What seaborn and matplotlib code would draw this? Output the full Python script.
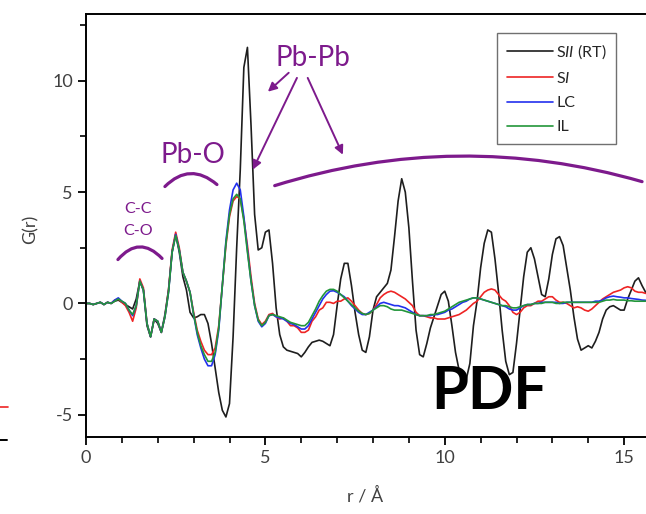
import numpy as np
import pandas as pd
import matplotlib
matplotlib.use("Agg")
import matplotlib.pyplot as plt
from matplotlib.lines import Line2D
import seaborn as sns

# r grid (Angstrom) shared by all curves
r = np.round(np.arange(0, 15.65, 0.1), 2)

g_sii = [0.0, 0.0, -0.05, 0.0, 0.05, -0.05, 0.05, 0.0, 0.1, 0.15,
         0.05, -0.05, -0.15, -0.25, 0.2, 1.0, 0.6, -1.0, -1.5, -0.7,
         -0.9, -1.3, -0.5, 0.6, 2.3, 3.1, 2.3, 1.2, 0.6, -0.4,
         -0.65, -0.6, -0.5, -0.5, -0.9, -1.8, -2.9, -4.0, -4.8, -5.1,
         -4.5, -1.5, 2.5, 6.0, 10.6, 11.5, 8.0, 4.0, 2.4, 2.5,
         3.2, 3.3, 1.8, -0.2, -1.4, -1.95, -2.1, -2.15, -2.2, -2.25,
         -2.4, -2.2, -1.95, -1.75, -1.7, -1.65, -1.7, -1.8, -1.9, -1.4,
         -0.1, 1.1, 1.8, 1.8, 0.8, -0.4, -1.4, -2.1, -2.2, -1.5,
         -0.3, 0.3, 0.5, 0.7, 0.9, 1.5, 3.0, 4.6, 5.6, 5.0,
         3.4, 1.0, -1.2, -2.3, -2.4, -1.8, -1.1, -0.6, -0.1, 0.4,
         0.55, 0.1, -1.0, -2.2, -3.0, -3.35, -3.4, -2.7, -1.0, 0.1,
         1.6, 2.7, 3.3, 3.2, 2.0, 0.5, -1.2, -2.6, -3.2, -3.1,
         -1.8, -0.3, 1.2, 2.3, 2.5, 2.0, 1.2, 0.4, 0.3, 1.1,
         2.2, 2.9, 3.0, 2.6, 1.6, 0.6, -0.6, -1.6, -2.1, -2.0,
         -1.9, -2.0, -1.7, -1.3, -0.7, -0.3, -0.15, -0.1, -0.2, -0.3,
         -0.3, 0.2, 0.6, 1.0, 1.15, 0.8, 0.5]

g_si = [0.0, 0.0, -0.05, 0.0, 0.05, -0.05, 0.05, 0.0, 0.15, 0.2,
        0.05, -0.1, -0.4, -0.8, -0.2, 1.1, 0.7, -0.9, -1.5, -0.7,
        -0.8, -1.3, -0.6, 0.6, 2.4, 3.2, 2.5, 1.4, 1.0, 0.5,
        -0.4, -1.2, -1.7, -2.1, -2.3, -2.3, -2.0, -1.0, 0.8, 2.6,
        3.9, 4.6, 4.8, 4.7, 3.8, 2.6, 1.2, 0.0, -0.7, -0.95,
        -0.8, -0.5, -0.45, -0.6, -0.7, -0.65, -0.8, -1.0, -1.0, -1.1,
        -1.3, -1.3, -1.2, -0.8, -0.6, -0.3, -0.2, 0.05, 0.05, 0.0,
        0.1, 0.1, 0.2, 0.25, 0.1, -0.1, -0.3, -0.45, -0.5, -0.45,
        -0.3, -0.05, 0.25, 0.4, 0.5, 0.55, 0.5, 0.4, 0.3, 0.2,
        0.05, -0.1, -0.4, -0.55, -0.55, -0.6, -0.65, -0.65, -0.7, -0.7,
        -0.7, -0.65, -0.6, -0.55, -0.5, -0.4, -0.3, -0.15, 0.0, 0.1,
        0.3, 0.5, 0.6, 0.65, 0.6, 0.4, 0.2, 0.1, -0.1, -0.4,
        -0.5, -0.4, -0.2, -0.1, -0.1, 0.0, 0.1, 0.1, 0.2, 0.3,
        0.3, 0.15, 0.05, 0.05, 0.0, -0.1, -0.2, -0.15, -0.2, -0.3,
        -0.35, -0.25, -0.1, 0.05, 0.2, 0.3, 0.4, 0.5, 0.55, 0.6,
        0.7, 0.75, 0.7, 0.55, 0.5, 0.5, 0.45]

g_lc = [0.0, 0.0, -0.05, 0.0, 0.05, -0.05, 0.05, 0.0, 0.15, 0.25,
        0.1, 0.0, -0.3, -0.55, -0.1, 1.0, 0.6, -0.9, -1.5, -0.7,
        -0.8, -1.3, -0.6, 0.5, 2.3, 3.1, 2.4, 1.4, 1.0, 0.5,
        -0.5, -1.4, -2.0, -2.5, -2.8, -2.8, -2.3, -1.2, 0.8, 2.8,
        4.2, 5.1, 5.4, 5.1, 3.9, 2.4, 1.0, -0.1, -0.8, -1.05,
        -0.9, -0.55, -0.5, -0.6, -0.65, -0.7, -0.8, -0.9, -0.95, -1.05,
        -1.15, -1.15, -1.0, -0.7, -0.4, -0.1, 0.2, 0.4, 0.55, 0.57,
        0.5, 0.4, 0.3, 0.1, -0.1, -0.25, -0.4, -0.5, -0.5, -0.4,
        -0.3, -0.15, 0.0, 0.05, 0.0, -0.05, -0.1, -0.1, -0.15, -0.2,
        -0.3, -0.4, -0.5, -0.55, -0.55, -0.55, -0.55, -0.5, -0.5, -0.45,
        -0.4, -0.3, -0.25, -0.15, -0.05, 0.05, 0.1, 0.2, 0.25, 0.25,
        0.2, 0.15, 0.1, 0.05, 0.0, -0.05, -0.1, -0.15, -0.25, -0.3,
        -0.3, -0.2, -0.1, -0.05, -0.05, 0.0, 0.0, 0.05, 0.05, 0.05,
        0.05, 0.05, 0.0, 0.0, 0.05, 0.05, 0.05, 0.05, 0.05, 0.05,
        0.05, 0.05, 0.1, 0.1, 0.15, 0.25, 0.3, 0.33, 0.3, 0.28,
        0.25, 0.25, 0.22, 0.2, 0.18, 0.15, 0.14]

g_il = [0.0, 0.0, -0.05, 0.0, 0.05, -0.05, 0.05, 0.0, 0.1, 0.2,
        0.1, 0.0, -0.3, -0.5, -0.1, 1.0, 0.6, -0.9, -1.5, -0.7,
        -0.8, -1.3, -0.6, 0.5, 2.3, 3.05, 2.4, 1.4, 1.0, 0.5,
        -0.5, -1.3, -1.9, -2.3, -2.6, -2.6, -2.2, -1.1, 0.8, 2.7,
        4.0, 4.7, 4.9, 4.7, 3.7, 2.3, 1.0, -0.1, -0.75, -1.0,
        -0.85, -0.55, -0.5, -0.55, -0.6, -0.65, -0.75, -0.85, -0.9, -0.95,
        -1.0, -1.0, -0.85, -0.55, -0.25, 0.1, 0.35, 0.55, 0.63, 0.63,
        0.55, 0.4, 0.25, 0.1, -0.05, -0.2, -0.35, -0.45, -0.5, -0.45,
        -0.3, -0.2, -0.1, -0.1, -0.15, -0.25, -0.3, -0.3, -0.3, -0.35,
        -0.4, -0.45, -0.5, -0.55, -0.55, -0.55, -0.5, -0.5, -0.45, -0.4,
        -0.35, -0.25, -0.15, -0.05, 0.05, 0.1, 0.15, 0.2, 0.25, 0.25,
        0.2, 0.15, 0.1, 0.05, 0.0, -0.05, -0.1, -0.1, -0.15, -0.2,
        -0.2, -0.15, -0.1, -0.05, -0.05, 0.0, 0.0, 0.0, 0.05, 0.05,
        0.05, 0.0, 0.0, 0.05, 0.05, 0.05, 0.05, 0.05, 0.05, 0.05,
        0.05, 0.05, 0.05, 0.05, 0.1, 0.15, 0.15, 0.18, 0.15, 0.15,
        0.15, 0.12, 0.12, 0.1, 0.1, 0.1, 0.1]

series_names = ["S$\\mathit{II}$ (RT)", "S$\\mathit{I}$", "LC", "IL"]
series_values = [g_sii, g_si, g_lc, g_il]
series_colors = ["#1e1e1e", "#ee2424", "#2230ee", "#23963a"]

frames = []
for name, vals in zip(series_names, series_values):
    frames.append(pd.DataFrame({"r": r, "G": vals, "sample": name}))
df = pd.concat(frames, ignore_index=True)

sns.set_theme(style="ticks")
plt.rcParams['font.family'] = ['Lato', 'DejaVu Sans']
plt.rcParams['mathtext.fontset'] = 'custom'
plt.rcParams['mathtext.rm'] = 'Lato'
plt.rcParams['mathtext.it'] = 'Lato:italic'
plt.rcParams['axes.unicode_minus'] = False

purple = "#7d1a8c"

fig = plt.figure(figsize=(6.46, 5.14), dpi=100)
# axes runs past the right edge of the figure (cropped panel)
ax = fig.add_axes([86 / 646, 77 / 514, 574 / 646, 423 / 514])

sns.lineplot(data=df, x="r", y="G", hue="sample", hue_order=series_names,
             palette=dict(zip(series_names, series_colors)), sort=False,
             linewidth=1.2, ax=ax)

ax.set_xlim(0, 16)
ax.set_ylim(-6, 13)
ax.set_xticks([0, 5, 10, 15])
ax.set_xticks(np.arange(0, 16, 1), minor=True)
ax.set_yticks([-5, 0, 5, 10])
ax.set_yticks([-2.5, 2.5, 7.5, 12.5], minor=True)
for s in ax.spines.values():
    s.set_linewidth(1.4)
    s.set_color("black")
ax.tick_params(which="major", direction="out", length=6, width=1.3,
               labelsize=13, labelcolor="#404040", color="black")
ax.tick_params(which="minor", direction="out", length=4, width=1.2, color="black")

ax.set_xlabel("r / Å", fontsize=13, color="#404040")
ax.set_ylabel("G(r)", fontsize=13, color="#404040")
ax.xaxis.set_label_coords((365 - 86) / 574, -0.118)
ax.yaxis.set_label_coords(-0.082, 0.49)

handles, labels = ax.get_legend_handles_labels()
ax.legend(handles, labels, loc="upper left",
          bbox_to_anchor=(497 / 646, 1 - 33 / 514), bbox_transform=fig.transFigure,
          borderaxespad=0, fontsize=11.5, handlelength=2.9, handletextpad=0.2,
          labelspacing=0.62, frameon=True, fancybox=False, edgecolor="#707070",
          framealpha=1, borderpad=0.6)
ax.get_legend().get_frame().set_linewidth(1.0)

# annotations
ax.text(1.46, 4.26, "C-C", color=purple, fontsize=11.5, ha="center", va="center")
ax.text(1.46, 3.27, "C-O", color=purple, fontsize=11.5, ha="center", va="center")
ax.text(2.98, 6.68, "Pb-O", color=purple, fontsize=20, ha="center", va="center")
ax.text(6.32, 11.03, "Pb-Pb", color=purple, fontsize=20, ha="center", va="center")

arc_kw = dict(arrowstyle="-", color=purple, lw=2.3, shrinkA=0, shrinkB=0)
ax.annotate("", xy=(2.12, 2.02), xytext=(0.89, 1.97),
            arrowprops=dict(connectionstyle="arc3,rad=-0.55", **arc_kw))
ax.annotate("", xy=(3.65, 5.34), xytext=(2.2, 5.25),
            arrowprops=dict(connectionstyle="arc3,rad=-0.46", **arc_kw))
ax.annotate("", xy=(15.5, 5.47), xytext=(5.26, 5.29),
            arrowprops=dict(connectionstyle="arc3,rad=-0.15", **arc_kw))

arr_kw = dict(arrowstyle="-|>", color=purple, lw=1.4, mutation_scale=13,
              shrinkA=0, shrinkB=0)
ax.annotate("", xy=(5.07, 9.51), xytext=(5.65, 10.36), arrowprops=arr_kw)
ax.annotate("", xy=(4.65, 6.01), xytext=(5.88, 10.13), arrowprops=arr_kw)
ax.annotate("", xy=(7.16, 6.68), xytext=(6.18, 10.13), arrowprops=arr_kw)

ax.text(11.25, -4.0, "PDF", color="black", fontsize=43, fontweight="bold",
        ha="center", va="center")

# fragments of the neighbouring panel at the left edge
fig.add_artist(Line2D([0, 8 / 646], [1 - 407 / 514] * 2, color="#ee2424", lw=1.2))
fig.add_artist(Line2D([0, 7 / 646], [1 - 440 / 514] * 2, color="black", lw=1.4))

fig.savefig("out.png", dpi=100)
